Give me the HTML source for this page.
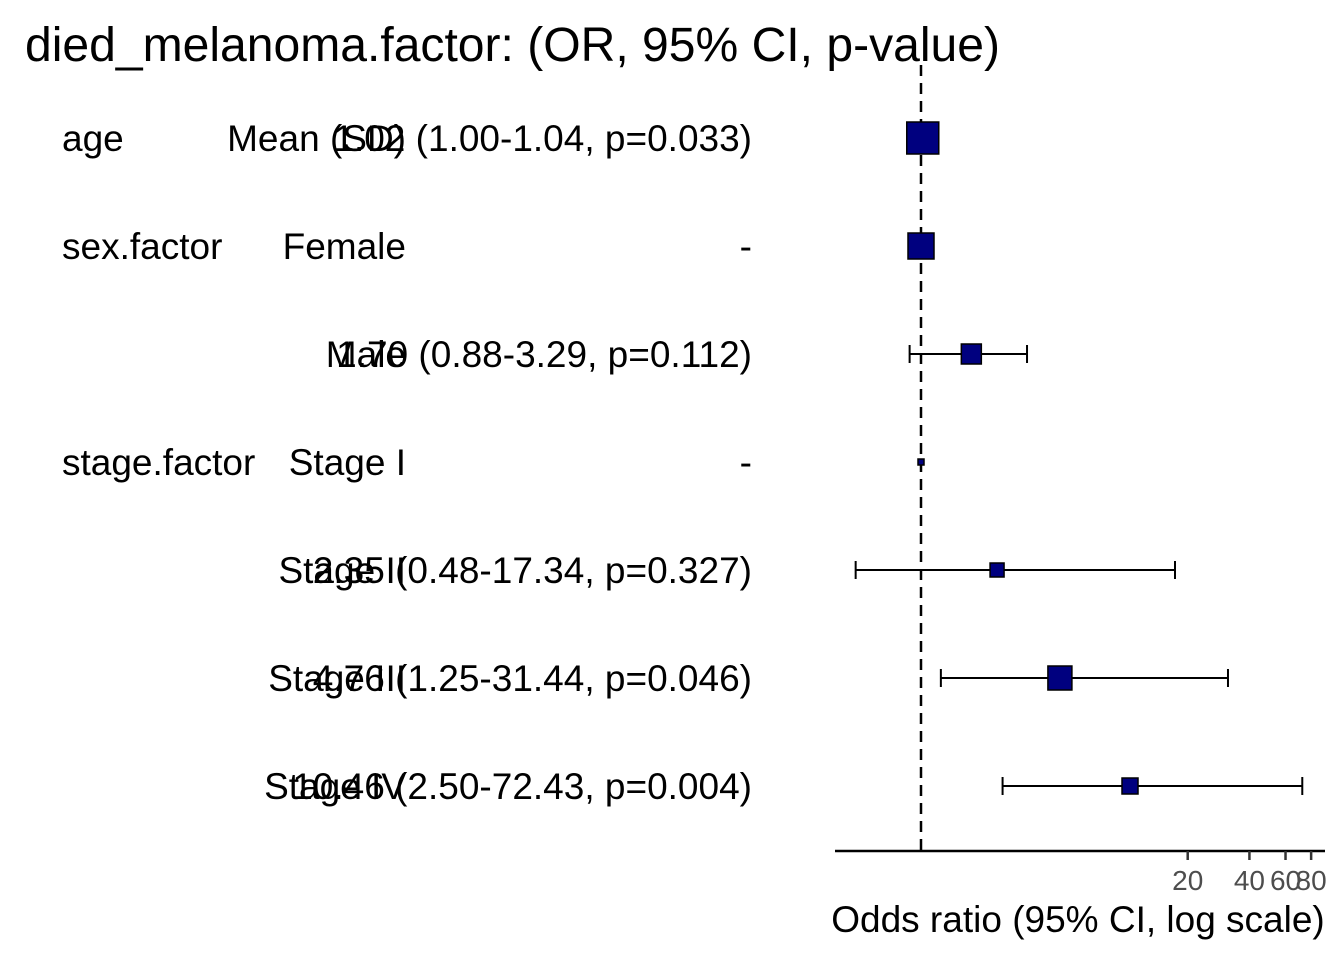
<!DOCTYPE html>
<html><head><meta charset="utf-8"><style>
body{margin:0;background:#fff}
svg text{font-family:"Liberation Sans",Arial,sans-serif}
</style></head><body>
<svg id="c" width="1344" height="960">
<text x="25" y="61" font-size="48" fill="#000" textLength="975" lengthAdjust="spacingAndGlyphs">died_melanoma.factor: (OR, 95% CI, p-value)</text>
<g id="tbl"></g>
<g id="plot"></g>
</svg>
<script>
const varNames=["age","sex.factor","","stage.factor","","",""];
const levels=["Mean (SD)","Female","Male","Stage I","Stage II","Stage III","Stage IV"];
const orText=["1.02 (1.00-1.04, p=0.033)","-","1.70 (0.88-3.29, p=0.112)","-","2.35 (0.48-17.34, p=0.327)","4.76 (1.25-31.44, p=0.046)","10.46 (2.50-72.43, p=0.004)"];
const orVal=[1.02,1,1.76,1,2.35,4.76,10.46];
const lower=[1.00,null,0.88,null,0.48,1.25,2.50];
const upper=[1.04,null,3.29,null,17.34,31.44,72.43];
const boxSize=[32,26,20,6,14,24,16];
const ticks=[20,40,60,80];
const NS="http://www.w3.org/2000/svg";
const FS=37;
const x=v=>921+Math.log10(v)*205;
const y=i=>138+i*108;
function mk(t,a,p){const e=document.createElementNS(NS,t);for(const k in a)e.setAttribute(k,a[k]);p.appendChild(e);return e;}
const tbl=document.getElementById('tbl'),plot=document.getElementById('plot');
varNames.forEach((n,i)=>{
 let e=mk('text',{x:62,y:y(i)+13,'font-size':FS},tbl);e.textContent=n;
 
 
 e=mk('text',{x:406,y:y(i)+13,'font-size':FS,'text-anchor':'end'},tbl);e.textContent=levels[i];
 
 
 e=mk('text',{x:752,y:y(i)+13,'font-size':FS,'text-anchor':'end'},tbl);e.textContent=orText[i];
 
 
});
let d=mk('line',{x1:x(1),x2:x(1),y1:65,y2:852,stroke:'#000','stroke-width':2.5,'stroke-dasharray':'11,7'},plot);


orVal.forEach((v,i)=>{
 if(lower[i]!=null){
  const g=mk('g',{stroke:'#000','stroke-width':2},plot);
  
  
  mk('line',{x1:x(lower[i]),x2:x(upper[i]),y1:y(i),y2:y(i)},g);
  mk('line',{x1:x(lower[i]),x2:x(lower[i]),y1:y(i)-9,y2:y(i)+9},g);
  mk('line',{x1:x(upper[i]),x2:x(upper[i]),y1:y(i)-9,y2:y(i)+9},g);
 }
 const s=boxSize[i];
 const r=mk('rect',{x:x(v)-s/2,y:y(i)-s/2,width:s,height:s,fill:'#00007f',stroke:'#000','stroke-width':1.5},plot);
 
 
});
let ax=mk('line',{x1:835,x2:1325,y1:851,y2:851,stroke:'#000','stroke-width':2.5},plot);


ticks.forEach(t=>{
 mk('line',{x1:x(t),x2:x(t),y1:851,y2:860,stroke:'#333','stroke-width':2.5},plot);
 const e=mk('text',{x:x(t),y:890,'font-size':28,fill:'#4d4d4d','text-anchor':'middle'},plot);e.textContent=t;
 
 
});
const at=mk('text',{x:1078,y:932,'font-size':FS,'text-anchor':'middle'},plot);at.textContent="Odds ratio (95% CI, log scale)";


</script>
</body></html>
